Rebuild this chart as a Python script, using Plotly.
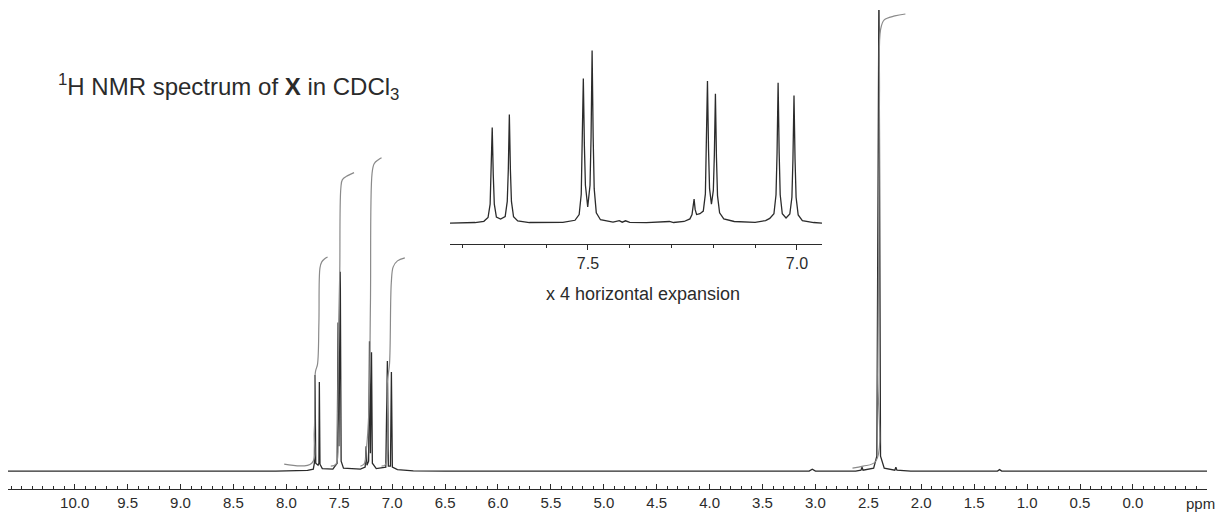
"""1H NMR spectrum of X in CDCl3 with a x4 horizontal expansion of the aromatic region."""

import plotly.graph_objects as go

# ---- data -------------------------------------------------------------------
# main trace: (ppm, height above baseline)
MAIN_PPM = [10.63, 8.10, 7.80, 7.745, 7.735, 7.729, 7.722, 7.70, 7.692, 7.688, 7.682,
            7.66, 7.56, 7.52, 7.511, 7.503, 7.490, 7.482, 7.46, 7.30, 7.255, 7.246,
            7.238, 7.222, 7.214, 7.205, 7.195, 7.187, 7.15, 7.06, 7.045, 7.036,
            7.016, 7.007, 6.998, 6.95, 6.80, 6.50, 3.06, 3.03, 3.00, 2.62, 2.57,
            2.56, 2.55, 2.45, 2.42, 2.40, 2.385, 2.35, 2.25, 2.24, 2.23, 2.10,
            1.28, 1.26, 1.24, -0.70]
MAIN_INT = [0, 0, 0.8, 2, 8, 97, 8, 6, 8, 90, 7,
            2.5, 2, 8, 150, 25, 201, 10, 3, 2, 4, 25,
            6, 10, 131, 18, 120, 8, 2.5, 4, 111, 5,
            5, 100, 4, 1.5, 0.3, 0, 0, 2, 0, 0, 1,
            4, 1, 3, 15, 490, 15, 3, 1, 4, 1, 0,
            0, 1.5, 0, 0]

# integral curves (ppm, level)
INT_A_PPM = [8.02, 7.76, 7.735, 7.725, 7.705, 7.692, 7.682, 7.665, 7.64, 7.61]
INT_A_LVL = [7, 8, 40, 100, 108, 150, 205, 211, 214, 216]
INT_B_PPM = [7.58, 7.53, 7.515, 7.505, 7.495, 7.485, 7.47, 7.42, 7.36]
INT_B_LVL = [5, 7, 60, 150, 200, 285, 294, 298, 301]
INT_C_PPM = [7.30, 7.26, 7.245, 7.22, 7.205, 7.19, 7.17, 7.13, 7.10]
INT_C_LVL = [5, 8, 20, 60, 170, 300, 310, 314, 316]
INT_D_PPM = [7.10, 7.06, 7.045, 7.025, 7.008, 6.99, 6.95, 6.88]
INT_D_LVL = [5, 7, 90, 108, 190, 206, 212, 215]
INT_E_PPM = [2.65, 2.55, 2.43, 2.41, 2.395, 2.385, 2.35, 2.25, 2.15]
INT_E_LVL = [3, 5, 10, 100, 380, 445, 455, 459, 461]

# expansion trace: (ppm, intensity, tallest line = 100)
INSET_PPM = [7.830, 7.770, 7.749, 7.739, 7.734, 7.7315, 7.729, 7.7265, 7.724, 7.719,
             7.709, 7.698, 7.693, 7.6905, 7.688, 7.6855, 7.683, 7.678, 7.668, 7.640,
             7.560, 7.531, 7.521, 7.516, 7.5135, 7.511, 7.5085, 7.506, 7.5005, 7.495,
             7.4925, 7.490, 7.4875, 7.485, 7.480, 7.470, 7.440, 7.425, 7.418, 7.410,
             7.400, 7.360, 7.305, 7.295, 7.270, 7.256, 7.251, 7.2485, 7.246, 7.2435,
             7.240, 7.232, 7.224, 7.219, 7.2165, 7.214, 7.2115, 7.209, 7.2045, 7.200,
             7.1975, 7.195, 7.1925, 7.190, 7.185, 7.175, 7.150, 7.100, 7.075, 7.065,
             7.055, 7.050, 7.0475, 7.045, 7.0425, 7.040, 7.035, 7.026, 7.017, 7.012,
             7.0095, 7.007, 7.0045, 7.002, 6.997, 6.987, 6.960, 6.940]
INSET_INT = [0, 0.4, 1.1, 3.3, 11, 28, 55.5, 28, 11, 3.5,
             2.4, 3.8, 12.6, 31, 62.9, 31, 12.6, 3.8, 1.3, 0.4,
             0.5, 1.7, 5, 16.8, 42, 83.8, 45, 22, 9.5, 22,
             50, 100, 50, 20, 6, 2, 0.6, 1.5, 0.6, 1.4,
             0.5, 0.3, 1.0, 0.4, 1.0, 2.5, 5, 9, 14, 8,
             5, 5.5, 7, 17, 42, 82.4, 43, 20, 11, 19,
             40, 75, 38, 16, 6, 2.5, 1, 0.5, 1.5, 2.8,
             5.5, 16.5, 41, 81.3, 41, 16.5, 5.5, 3, 5.3, 15,
             37, 74, 37, 15, 4.8, 1.5, 0.4, 0]

MAIN_TICKS = [10.0, 9.5, 9.0, 8.5, 8.0, 7.5, 7.0, 6.5, 6.0, 5.5, 5.0,
              4.5, 4.0, 3.5, 3.0, 2.5, 2.0, 1.5, 1.0, 0.5, 0.0]
INSET_TICKS = [7.5, 7.0]

TITLE = "<sup>1</sup>H NMR spectrum of <b>X</b> in CDCl<sub>3</sub>"
INSET_CAPTION = "x 4 horizontal expansion"

# ---- figure -----------------------------------------------------------------
W, H = 1221, 519
M_L, M_R, M_T, M_B = 8, 14, 10, 26
INK = "#2b2b2b"
INTEGRAL = "#8a8a8a"
FONT = "Liberation Sans, Arial, Helvetica, sans-serif"

fig = go.Figure()

fig.add_trace(go.Scatter(x=MAIN_PPM, y=MAIN_INT, mode="lines",
                         line={"color": INK, "width": 1.3}, showlegend=False))
for px, lv in [(INT_A_PPM, INT_A_LVL), (INT_B_PPM, INT_B_LVL), (INT_C_PPM, INT_C_LVL),
               (INT_D_PPM, INT_D_LVL), (INT_E_PPM, INT_E_LVL)]:
    fig.add_trace(go.Scatter(x=px, y=lv, mode="lines", line_shape="spline",
                             line={"color": INTEGRAL, "width": 1.2}, showlegend=False))

fig.add_trace(go.Scatter(x=INSET_PPM, y=INSET_INT, mode="lines", xaxis="x2", yaxis="y2",
                         line={"color": INK, "width": 1.3}, showlegend=False))

plot_w = W - M_L - M_R
plot_h = H - M_T - M_B


def px_x(x):
    return (x - M_L) / plot_w


def px_y(y):
    return (H - M_B - y) / plot_h


fig.update_layout(
    width=W,
    height=H,
    margin={"l": M_L, "r": M_R, "t": M_T, "b": M_B},
    paper_bgcolor="white",
    plot_bgcolor="white",
    font={"family": FONT, "color": INK, "size": 15},
    xaxis={
        "range": [10.63, -0.70],
        "showgrid": False,
        "zeroline": False,
        "showline": True,
        "linecolor": INK,
        "linewidth": 1.2,
        "tickmode": "array",
        "tickvals": MAIN_TICKS,
        "ticktext": [f"{v:.1f}" for v in MAIN_TICKS],
        "ticks": "inside",
        "ticklen": 5,
        "tickcolor": INK,
        "minor": {"tickmode": "linear", "tick0": 0, "dtick": 0.1, "ticks": "inside",
                  "ticklen": 3, "tickcolor": INK},
        "tickfont": {"size": 15},
        "fixedrange": True,
    },
    yaxis={"range": [-18, 465], "visible": False, "fixedrange": True},
    xaxis2={
        "domain": [px_x(450), px_x(822)],
        "range": [7.83, 6.94],
        "anchor": "y2",
        "showgrid": False,
        "zeroline": False,
        "showline": True,
        "linecolor": INK,
        "linewidth": 1.2,
        "tickmode": "array",
        "tickvals": INSET_TICKS,
        "ticktext": [f"{v:.1f}" for v in INSET_TICKS],
        "ticks": "outside",
        "ticklen": 5,
        "tickcolor": INK,
        "minor": {"tickmode": "linear", "tick0": 0, "dtick": 0.1, "ticks": "outside",
                  "ticklen": 3, "tickcolor": INK},
        "tickfont": {"size": 16},
    },
    yaxis2={"domain": [px_y(246), px_y(45)], "range": [-12.07, 103.4], "anchor": "x2",
            "visible": False},
    annotations=[
        {"text": TITLE, "xref": "paper", "yref": "paper", "x": px_x(56), "y": px_y(88),
         "xanchor": "left", "yanchor": "middle", "showarrow": False,
         "font": {"size": 24, "color": INK}},
        {"text": INSET_CAPTION, "xref": "paper", "yref": "paper", "x": px_x(643),
         "y": px_y(296), "xanchor": "center", "yanchor": "middle", "showarrow": False,
         "font": {"size": 18, "color": INK}},
        {"text": "ppm", "xref": "paper", "yref": "paper", "x": px_x(1217), "y": 0,
         "xanchor": "right", "yanchor": "top", "yshift": -4, "showarrow": False,
         "font": {"size": 15, "color": INK}},
    ],
)

# the page's default body margin would push the 1221x519 figure off the window
fig.write_html("out.html", config={"displayModeBar": False},
               post_script="document.body.style.margin = '0px';")
